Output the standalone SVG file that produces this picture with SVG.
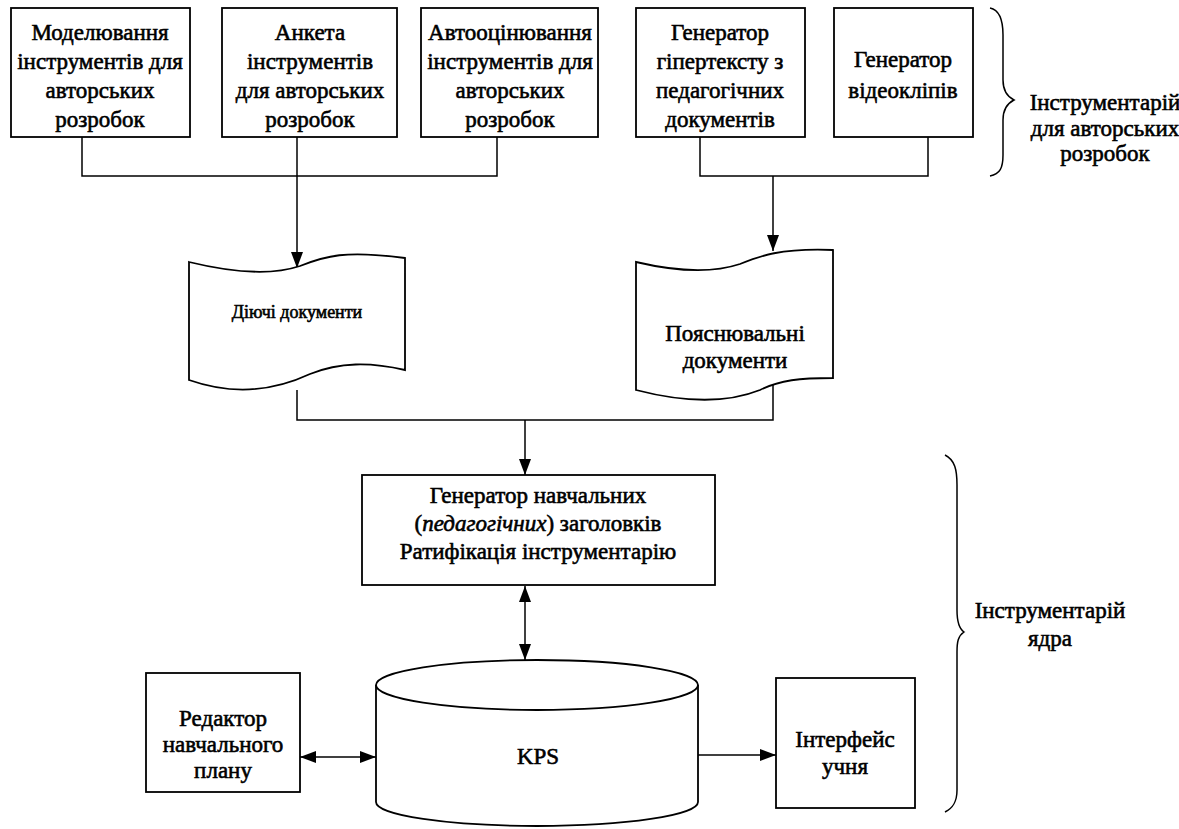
<svg xmlns="http://www.w3.org/2000/svg" width="1179" height="829" viewBox="0 0 1179 829">
<style>
.box{fill:#fff;stroke:#000;stroke-width:1.8}
.ln{fill:none;stroke:#000;stroke-width:1.5}
text{font-family:"Liberation Serif","Times New Roman",serif;font-size:23px;fill:#000;stroke:#000;stroke-width:0.6;text-anchor:middle}
</style>
<defs>
<marker id="ah" viewBox="0 0 16 12" refX="16" refY="6" markerWidth="16" markerHeight="12" markerUnits="userSpaceOnUse" orient="auto-start-reverse">
<path d="M0,0 L16,6 L0,12 Z" fill="#000"/>
</marker>
</defs>
<rect width="1179" height="829" fill="#fff"/>
<g id="connectors">
<path class="ln" d="M82,137 V176 H497 V137"/>
<path class="ln" d="M297,137 V268" marker-end="url(#ah)"/>
<path class="ln" d="M700,137 V176 H928 V137"/>
<path class="ln" d="M773,176 V251" marker-end="url(#ah)"/>
<path class="ln" d="M297,390 V420 H773 V384"/>
<path class="ln" d="M525,420 V475" marker-end="url(#ah)"/>
<path class="ln" d="M525,586 V660" marker-start="url(#ah)" marker-end="url(#ah)"/>
<path class="ln" d="M300,757 H376" marker-start="url(#ah)" marker-end="url(#ah)"/>
<path class="ln" d="M698,755 H776" marker-end="url(#ah)"/>
</g>
<g id="n1"><rect class="box" x="11" y="8" width="179" height="129"/>
<text x="100" y="40">Моделювання</text><text x="100" y="69">інструментів для</text><text x="100" y="98">авторських</text><text x="100" y="127">розробок</text></g>
<g id="n2"><rect class="box" x="222" y="8" width="175" height="129"/>
<text x="310" y="40">Анкета</text><text x="310" y="69">інструментів</text><text x="310" y="98">для  авторських</text><text x="310" y="127">розробок</text></g>
<g id="n3"><rect class="box" x="421" y="8" width="177" height="129"/>
<text x="510" y="40">Автооцінювання</text><text x="510" y="69">інструментів для</text><text x="510" y="98">авторських</text><text x="510" y="127">розробок</text></g>
<g id="n4"><rect class="box" x="636" y="8" width="169" height="129"/>
<text x="720" y="40">Генератор</text><text x="720" y="69">гіпертексту з</text><text x="720" y="98">педагогічних</text><text x="720" y="127">документів</text></g>
<g id="n5"><rect class="box" x="834" y="8" width="139" height="129"/>
<text x="903" y="67">Генератор</text><text x="903" y="98">відеоклiпів</text></g>
<g id="brace1"><path class="ln" d="M990,8 C1000,10 1003,20 1003,35 V80 C1003,90 1006,96 1014,100 C1006,104 1003,110 1003,120 V155 C1003,168 1000,174 990,176"/>
<text x="1105" y="110">Інструментарій</text><text x="1105" y="136">для авторських</text><text x="1105" y="161">розробок</text></g>
<g id="doc1"><path class="box" d="M189,262 C230,272 270,276 300,266 C325,256 345,250 405,258 L405,370 C370,362 340,362 310,374 C280,388 240,398 189,380 Z"/>
<text x="297" y="318" style="font-size:18px">Діючі документи</text></g>
<g id="doc2"><path class="box" d="M636,262 C670,270 710,274 740,264 C760,256 780,248 833,250 L833,378 C800,378 780,380 760,390 C730,402 690,404 636,390 Z"/>
<text x="735" y="341">Пояснювальні</text><text x="735" y="368">документи</text></g>
<g id="gen"><rect class="box" x="362" y="475" width="353" height="110"/>
<text x="538" y="503">Генератор  навчальних</text>
<text x="538" y="531">(<tspan font-style="italic">педагогічних</tspan>) заголовків</text>
<text x="538" y="559">Ратифікація інструментарію</text></g>
<g id="kps"><path class="box" d="M376,685 V802 A161,24 0 0 0 698,802 V685"/>
<ellipse class="box" cx="537" cy="685" rx="161" ry="25"/>
<text x="538" y="764">KPS</text></g>
<g id="editor"><rect class="box" x="146" y="673" width="154" height="119"/>
<text x="223" y="726">Редактор</text><text x="223" y="752">навчального</text><text x="223" y="778">плану</text></g>
<g id="iface"><rect class="box" x="776" y="678" width="139" height="130"/>
<text x="845" y="747">Інтерфейс</text><text x="845" y="774">учня</text></g>
<g id="brace2"><path class="ln" d="M945,455 C955,460 957,470 957,485 V610 C957,620 958,628 964,632 C958,636 957,642 957,652 V790 C957,802 953,808 945,812"/>
<text x="1050" y="618">Інструментарій</text><text x="1050" y="646">ядра</text></g>
</svg>
